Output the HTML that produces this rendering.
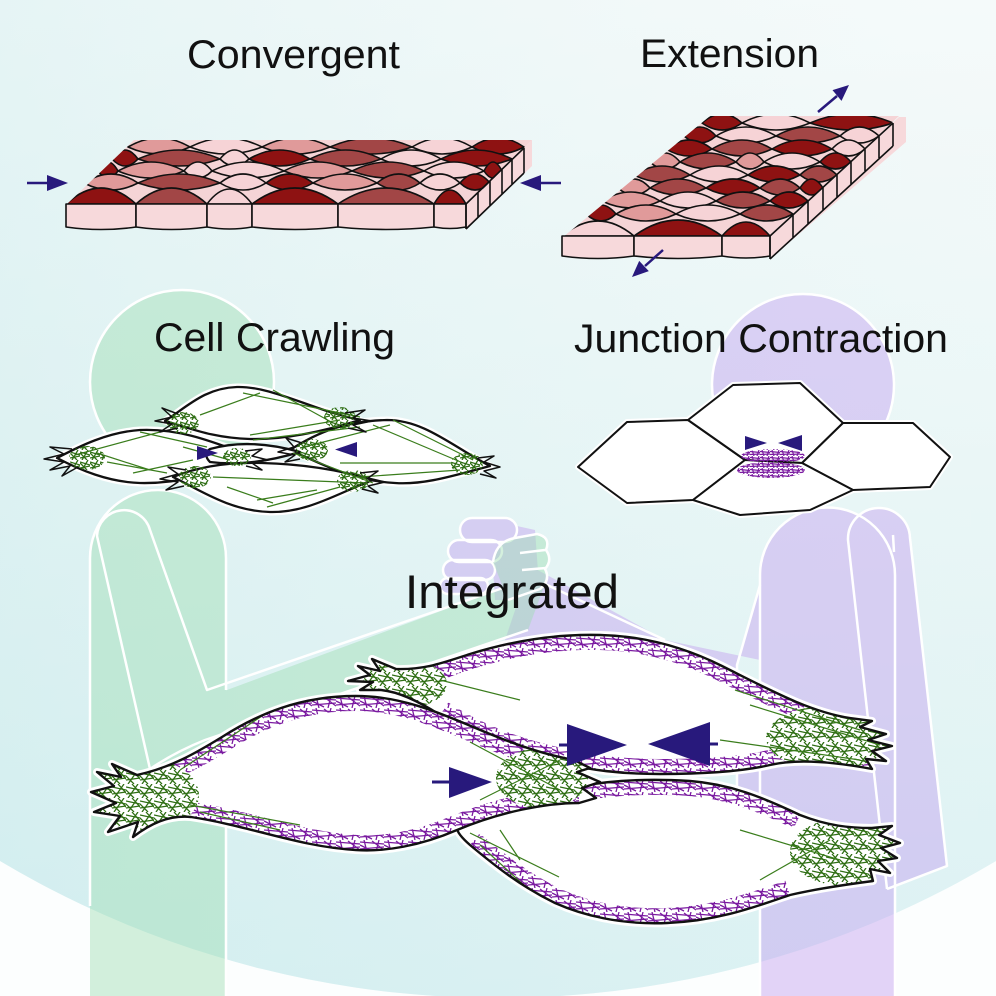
<!DOCTYPE html>
<html><head><meta charset="utf-8"><style>html,body{margin:0;padding:0;background:#fcfefe}svg{display:block}</style></head>
<body>
<svg width="996" height="996" viewBox="0 0 996 996" xmlns="http://www.w3.org/2000/svg" font-family="'Liberation Sans', Arial, sans-serif">
<defs>
<linearGradient id="bg" x1="0" y1="0" x2="0" y2="1000" gradientUnits="userSpaceOnUse">
<stop offset="0" stop-color="#f3f9f9"/><stop offset="0.5" stop-color="#e4f4f4"/><stop offset="1" stop-color="#d3eef0"/>
</linearGradient>
<linearGradient id="hz" x1="0" y1="0" x2="996" y2="0" gradientUnits="userSpaceOnUse">
<stop offset="0" stop-color="#cdeced" stop-opacity="0.35"/><stop offset="1" stop-color="#ffffff" stop-opacity="0.2"/>
</linearGradient>
<pattern id="gh" width="14" height="14" patternUnits="userSpaceOnUse">
<g stroke="#2f6e14" stroke-width="1.3">
<line x1="0" y1="3" x2="14" y2="6"/><line x1="0" y1="10" x2="14" y2="8"/><line x1="2" y1="14" x2="12" y2="0"/>
<line x1="-1" y1="5" x2="8" y2="14"/><line x1="6" y1="0" x2="15" y2="10"/>
</g></pattern>
<pattern id="gh2" width="10" height="10" patternUnits="userSpaceOnUse">
<g stroke="#2f6e14" stroke-width="1.3">
<line x1="0" y1="2" x2="10" y2="5"/><line x1="0" y1="8" x2="10" y2="6"/><line x1="2" y1="10" x2="8" y2="0"/><line x1="0" y1="3" x2="7" y2="10"/>
</g></pattern>
<pattern id="ph" width="24" height="12" patternUnits="userSpaceOnUse">
<g stroke="#7a1aa0" stroke-width="1.3">
<line x1="0" y1="2" x2="24" y2="4"/><line x1="0" y1="9" x2="24" y2="7"/><line x1="4" y1="0" x2="7" y2="12"/>
<line x1="16" y1="12" x2="19" y2="0"/><line x1="0" y1="5" x2="12" y2="11"/><line x1="12" y1="1" x2="24" y2="10"/>
</g></pattern>
<pattern id="ph2" width="10" height="6" patternUnits="userSpaceOnUse">
<g stroke="#7a1aa0" stroke-width="1.2">
<line x1="0" y1="1.5" x2="10" y2="2.5"/><line x1="0" y1="4.5" x2="10" y2="4"/><line x1="2" y1="0" x2="4" y2="6"/><line x1="7" y1="6" x2="9" y2="0"/>
</g></pattern>
<clipPath id="cTop1"><polygon points="134,140 532,140 466,206 65,206"/></clipPath>
<clipPath id="cTop2"><polygon points="710,116 899,116 770,238 562,238"/></clipPath>
<clipPath id="cBL"><path d="M137 775C170 768 196 753 222 737C258 714 300 696 356 696C412 696 458 722 500 738C528 749 552 756 574 760L590 768L577 772L600 782L582 788L596 798L579 803C545 803 500 812 457 830C420 846 384 852 356 850C300 847 250 826 191 817C168 815 150 824 133 837L138 822L108 832L120 816L94 812L116 803L91 792L114 786L97 772L121 777L112 764Z"/></clipPath>
<clipPath id="cTR"><path d="M381 690L360 690L373 682L348 681L370 675L358 666L380 671L372 659L396 669C425 670 445 662 470 654C515 640 560 634 600 635C650 636 690 650 722 666C770 690 810 712 850 718L872 721L860 727L886 734L868 740L892 746L872 751L886 761L866 759L872 769C840 763 800 758 770 765C740 772 700 774 660 774C620 774 590 770 560 763C510 752 470 735 440 715C420 702 400 692 381 690Z"/></clipPath>
<clipPath id="cBR"><path d="M560 790C600 781 640 778 690 781C730 784 762 797 800 815C828 826 850 828 872 828L892 826L879 835L900 843L881 848L897 858L878 861L890 873L870 869L873 881C850 884 820 888 790 895C760 905 720 921 667 923C620 925 582 915 555 903C520 886 494 865 470 845C462 838 457 832 457 828C482 815 520 800 560 790Z"/></clipPath>
</defs>

<rect width="996" height="996" fill="#fcfefe"/>
<circle cx="498" cy="24" r="974" fill="url(#bg)"/>
<circle cx="498" cy="24" r="974" fill="url(#hz)"/>

<!-- purple person -->
<path fill="rgba(195,160,240,0.45)" d="M760 996V575A67.5 67.5 0 0 1 895 575V996Z M760 585L737 665L737 895L760 895Z M848 540A31 31 0 0 1 910 538L947 866L887 889Z M530 566L560 582L665 640L760 660L760 770L690 740L505 640Z M490 520L535 530L540 600L495 600Z M472 518H505A12 12 0 0 1 505 542H472A12 12 0 0 1 472 518Z M459 540H491A11 11 0 0 1 491 562H459A11 11 0 0 1 459 540Z M453 560H485A10 10 0 0 1 485 580H453A10 10 0 0 1 453 560Z M448 578H480A8 8 0 0 1 480 594H448A8 8 0 0 1 448 578Z"/>
<circle cx="803" cy="385" r="91" fill="rgba(195,160,240,0.45)" stroke="#fff" stroke-width="2.5"/>
<g fill="none" stroke="#fff" stroke-width="2.5" stroke-linejoin="round">
<path d="M760 996V575A67.5 67.5 0 0 1 895 575V996"/>
<path d="M760 585L737 665L737 895"/>
<path d="M887 889L848 540A31 31 0 0 1 910 538L947 866L887 889"/>
<path d="M893 535L894 552"/>
<path d="M545 584L665 640"/>
<path d="M472 518H505A12 12 0 0 1 505 542H472A12 12 0 0 1 472 518Z"/>
<path d="M459 540H491A11 11 0 0 1 491 562H459A11 11 0 0 1 459 540Z"/>
<path d="M453 560H485A10 10 0 0 1 485 580H453A10 10 0 0 1 453 560Z"/>
<path d="M448 578H480A8 8 0 0 1 480 594H448A8 8 0 0 1 448 578Z"/>
</g>

<!-- green person -->
<path fill="rgba(160,222,180,0.45)" d="M90 996V558A68 68 0 0 1 226 558V996Z M200 700L503 588L545 584L528 630L205 742Z M493 562Q496 541 515 538L537 534Q551 537 546 550Q553 560 545 569Q551 580 540 589L508 600Z"/>
<circle cx="182" cy="382" r="92" fill="rgba(160,222,180,0.45)" stroke="#fff" stroke-width="2.5"/>
<g fill="none" stroke="#fff" stroke-width="2.5" stroke-linejoin="round">
<path d="M90 906V558A68 68 0 0 1 226 558V690"/>
<path d="M226 738V996"/>
<path d="M150 769L97 536A27 27 0 0 1 150 530L207 690L503 588"/>
<path d="M150 769Q175 752 205 740L528 630"/>
<path d="M493 562Q496 541 515 538L537 534Q551 537 546 550Q553 560 545 569Q551 580 540 589L508 600"/>
<path d="M520 553L545 550M522 570L546 568"/>
</g>

<!-- Convergent slab -->
<g stroke="#111" stroke-width="1.6" stroke-linejoin="round">
<polygon points="134,140 532,140 466,206 65,206" fill="#f5d4d6" stroke="none"/>
<polygon points="532,140 532,166 466,230 466,204" fill="#f7d9db" stroke="none"/>
<g clip-path="url(#cTop1)">
<path fill="#e09a9a" d="M128 147Q159 129 190 147Q159 161 128 147Z"/>
<path fill="#f6d3d6" d="M190 147Q226 129 262 147Q226 161 190 147Z"/>
<path fill="#e09a9a" d="M262 147Q296 129 330 147Q296 161 262 147Z"/>
<path fill="#a24646" d="M330 147Q371 129 412 147Q371 161 330 147Z"/>
<path fill="#f6d3d6" d="M412 147Q442 129 472 147Q442 161 412 147Z"/>
<path fill="#8e1212" d="M472 147Q498 129 524 147Q498 161 472 147Z"/>
<path fill="#8e1212" d="M112 159Q125 141 138 159Q125 173 112 159Z"/>
<path fill="#a24646" d="M138 159Q179 141 220 159Q179 173 138 159Z"/>
<path fill="#f6d3d6" d="M220 159Q234.5 141 249 159Q234.5 173 220 159Z"/>
<path fill="#8e1212" d="M249 159Q279.5 141 310 159Q279.5 173 249 159Z"/>
<path fill="#a24646" d="M310 159Q345.5 141 381 159Q345.5 173 310 159Z"/>
<path fill="#f6d3d6" d="M381 159Q411 141 441 159Q411 173 381 159Z"/>
<path fill="#8e1212" d="M441 159Q476.5 141 512 159Q476.5 173 441 159Z"/>
<path fill="#8e1212" d="M98 171Q108 153 118 171Q108 185 98 171Z"/>
<path fill="#e09a9a" d="M118 171Q151 153 184 171Q151 185 118 171Z"/>
<path fill="#f6d3d6" d="M184 171Q198 153 212 171Q198 185 184 171Z"/>
<path fill="#f6d3d6" d="M212 171Q248 153 284 171Q248 185 212 171Z"/>
<path fill="#e09a9a" d="M284 171Q318 153 352 171Q318 185 284 171Z"/>
<path fill="#a24646" d="M352 171Q388 153 424 171Q388 185 352 171Z"/>
<path fill="#f6d3d6" d="M424 171Q454 153 484 171Q454 185 424 171Z"/>
<path fill="#8e1212" d="M484 171Q493 153 502 171Q493 185 484 171Z"/>
<path fill="#e09a9a" d="M84 183Q111 165 138 183Q111 197 84 183Z"/>
<path fill="#a24646" d="M138 183Q179 165 220 183Q179 197 138 183Z"/>
<path fill="#f6d3d6" d="M220 183Q243 165 266 183Q243 197 220 183Z"/>
<path fill="#8e1212" d="M266 183Q289.5 165 313 183Q289.5 197 266 183Z"/>
<path fill="#e09a9a" d="M313 183Q345 165 377 183Q345 197 313 183Z"/>
<path fill="#a24646" d="M377 183Q398.5 165 420 183Q398.5 197 377 183Z"/>
<path fill="#f6d3d6" d="M420 183Q440 165 460 183Q440 197 420 183Z"/>
<path fill="#8e1212" d="M460 183Q475 165 490 183Q475 197 460 183Z"/>
<path fill="#8e1212" d="M66 204Q101 172 136 204Z"/>
<path fill="#a24646" d="M136 204Q171.5 172 207 204Z"/>
<path fill="#f6d3d6" d="M207 204Q229.5 174 252 204Z"/>
<path fill="#8e1212" d="M252 204Q295 172 338 204Z"/>
<path fill="#a24646" d="M338 204Q386 172 434 204Z"/>
<path fill="#8e1212" d="M434 204Q450 176 466 204Z"/>
</g>
<g fill="#f7d9db">
<path d="M66 204H136V227Q101 232 66 227Z"/>
<path d="M136 204H207V227Q171.5 232 136 227Z"/>
<path d="M207 204H252V227Q229.5 231 207 227Z"/>
<path d="M252 204H338V227Q295 232 252 227Z"/>
<path d="M338 204H434V227Q386 232 338 227Z"/>
<path d="M434 204H466V227Q450 230 434 227Z"/>
</g>
<path fill="none" d="M524 148V173M512 159V184M502 169V194M490 181V206M478 192V217M466 204V229M524 148L466 204M524 173L466 229"/>
</g>
<g fill="#28197c" stroke="#28197c">
<line x1="27" y1="183" x2="50" y2="183" stroke-width="2.5"/>
<polygon points="47,175 47,191 68,183" stroke="none"/>
<line x1="540" y1="183" x2="561" y2="183" stroke-width="2.5"/>
<polygon points="541,175 541,191 520,183" stroke="none"/>
</g>

<!-- Extension slab -->
<g stroke="#111" stroke-width="1.6" stroke-linejoin="round">
<polygon points="710,116 899,116 770,238 562,238" fill="#f5d4d6" stroke="none"/>
<polygon points="899,117 906,117 906,142 770,259 770,236" fill="#f7d9db" stroke="none"/>
<g clip-path="url(#cTop2)">
<path fill="#8e1212" d="M702 123Q722 105 742 123Q722 137 702 123Z"/>
<path fill="#f6d3d6" d="M742 123Q776 105 810 123Q776 137 742 123Z"/>
<path fill="#8e1212" d="M810 123Q851.5 105 893 123Q851.5 137 810 123Z"/>
<path fill="#8e1212" d="M684 136Q700 118 716 136Q700 150 684 136Z"/>
<path fill="#f6d3d6" d="M716 136Q746 118 776 136Q746 150 716 136Z"/>
<path fill="#a24646" d="M776 136Q808 118 840 136Q808 150 776 136Z"/>
<path fill="#f6d3d6" d="M840 136Q859.5 118 879 136Q859.5 150 840 136Z"/>
<path fill="#8e1212" d="M666 149Q689 131 712 149Q689 163 666 149Z"/>
<path fill="#a24646" d="M712 149Q742 131 772 149Q742 163 712 149Z"/>
<path fill="#8e1212" d="M772 149Q802 131 832 149Q802 163 772 149Z"/>
<path fill="#f6d3d6" d="M832 149Q848.5 131 865 149Q848.5 163 832 149Z"/>
<path fill="#e09a9a" d="M650 162Q665 144 680 162Q665 176 650 162Z"/>
<path fill="#a24646" d="M680 162Q708 144 736 162Q708 176 680 162Z"/>
<path fill="#e09a9a" d="M736 162Q750 144 764 162Q750 176 736 162Z"/>
<path fill="#f6d3d6" d="M764 162Q792 144 820 162Q792 176 764 162Z"/>
<path fill="#8e1212" d="M820 162Q835.5 144 851 162Q835.5 176 820 162Z"/>
<path fill="#a24646" d="M634 175Q662 157 690 175Q662 189 634 175Z"/>
<path fill="#f6d3d6" d="M690 175Q719 157 748 175Q719 189 690 175Z"/>
<path fill="#8e1212" d="M748 175Q774 157 800 175Q774 189 748 175Z"/>
<path fill="#a24646" d="M800 175Q818.5 157 837 175Q818.5 189 800 175Z"/>
<path fill="#e09a9a" d="M618 188Q634 170 650 188Q634 202 618 188Z"/>
<path fill="#a24646" d="M650 188Q678 170 706 188Q678 202 650 188Z"/>
<path fill="#8e1212" d="M706 188Q733 170 760 188Q733 202 706 188Z"/>
<path fill="#a24646" d="M760 188Q780 170 800 188Q780 202 760 188Z"/>
<path fill="#8e1212" d="M800 188Q811.5 170 823 188Q811.5 202 800 188Z"/>
<path fill="#e09a9a" d="M602 201Q631 183 660 201Q631 215 602 201Z"/>
<path fill="#f6d3d6" d="M660 201Q688 183 716 201Q688 215 660 201Z"/>
<path fill="#a24646" d="M716 201Q743 183 770 201Q743 215 716 201Z"/>
<path fill="#8e1212" d="M770 201Q789 183 808 201Q789 215 770 201Z"/>
<path fill="#8e1212" d="M586 214Q601 196 616 214Q601 228 586 214Z"/>
<path fill="#e09a9a" d="M616 214Q646 196 676 214Q646 228 616 214Z"/>
<path fill="#f6d3d6" d="M676 214Q708 196 740 214Q708 228 676 214Z"/>
<path fill="#a24646" d="M740 214Q766.5 196 793 214Q766.5 228 740 214Z"/>
<path fill="#f6d3d6" d="M562 236Q598 206 634 236Z"/>
<path fill="#8e1212" d="M634 236Q678 204 722 236Z"/>
<path fill="#8e1212" d="M722 236Q746 208 770 236Z"/>
</g>
<g fill="#f7d9db">
<path d="M562 236H634V256Q598 261 562 256Z"/>
<path d="M634 236H722V256Q678 261 634 256Z"/>
<path d="M722 236H770V256Q746 260 722 256Z"/>
</g>
<path fill="none" d="M893 123V146M879 135V158M865 148V171M851 161V184M837 174V197M823 187V210M808 201V224M793 215V238M770 236V259M893 123L770 236M893 146L770 259"/>
</g>
<g fill="#28197c" stroke="#28197c">
<line x1="818" y1="112" x2="837" y2="96" stroke-width="2.5"/>
<polygon points="849,85 841.5,100.9 832.5,90.1" stroke="none"/>
<line x1="663" y1="250" x2="645" y2="266" stroke-width="2.5"/>
<polygon points="632,277 648.8,271.1 639.2,260.9" stroke="none"/>
</g>

<!-- Cell crawling -->
<g stroke-linejoin="round">
<g fill="none" stroke="#fff" stroke-width="7">
<path d="M165 421C188 406 205 388 237 387C272 386 312 410 360 420C322 432 282 440 250 439C212 438 190 428 165 421Z"/>
<path d="M57 458C80 446 108 432 140 430C185 428 222 446 257 458C222 470 185 484 140 483C108 482 80 470 57 458Z"/>
<path d="M290 450C318 432 345 421 387 420C424 420 452 446 490 466C452 476 424 485 395 483C352 481 320 463 290 450Z"/>
<path d="M173 477C200 466 230 462 262 463C302 464 340 470 373 480C340 492 308 513 270 512C230 511 200 490 173 477Z"/>
</g>
<g fill="#fff" stroke="#111" stroke-width="2.3">
<path d="M165 421C188 406 205 388 237 387C272 386 312 410 360 420C322 432 282 440 250 439C212 438 190 428 165 421Z"/>
<path d="M57 458C80 446 108 432 140 430C185 428 222 446 257 458C222 470 185 484 140 483C108 482 80 470 57 458Z"/>
<path d="M290 450C318 432 345 421 387 420C424 420 452 446 490 466C452 476 424 485 395 483C352 481 320 463 290 450Z"/>
<path d="M173 477C200 466 230 462 262 463C302 464 340 470 373 480C340 492 308 513 270 512C230 511 200 490 173 477Z"/>
<path d="M210 449C238 441 268 443 300 452C270 461 240 466 210 462C205 457 205 452 210 449Z"/>
</g>
<g stroke="#3a7d1c" stroke-width="1.2">
<line x1="243" y1="393" x2="360" y2="417"/><line x1="273" y1="390" x2="333" y2="423"/><line x1="200" y1="415" x2="260" y2="393"/>
<line x1="140" y1="432" x2="207" y2="447"/><line x1="250" y1="435" x2="340" y2="420"/><line x1="253" y1="440" x2="360" y2="427"/>
<line x1="373" y1="425" x2="463" y2="463"/><line x1="393" y1="420" x2="473" y2="460"/><line x1="340" y1="463" x2="453" y2="463"/>
<line x1="360" y1="477" x2="460" y2="470"/><line x1="213" y1="477" x2="367" y2="483"/><line x1="227" y1="487" x2="273" y2="503"/>
<line x1="257" y1="500" x2="317" y2="490"/><line x1="267" y1="507" x2="340" y2="487"/><line x1="97" y1="453" x2="150" y2="470"/>
<line x1="107" y1="462" x2="167" y2="473"/><line x1="133" y1="473" x2="193" y2="460"/><line x1="183" y1="447" x2="230" y2="460"/>
<line x1="293" y1="453" x2="373" y2="483"/><line x1="75" y1="455" x2="160" y2="432"/><line x1="300" y1="448" x2="390" y2="425"/>
</g>
<g fill="url(#gh2)">
<ellipse cx="87" cy="458" rx="18" ry="12"/><ellipse cx="183" cy="423" rx="16" ry="11"/><ellipse cx="340" cy="418" rx="16" ry="11"/>
<ellipse cx="237" cy="457" rx="14" ry="9"/><ellipse cx="312" cy="450" rx="16" ry="11"/><ellipse cx="195" cy="477" rx="16" ry="11"/>
<ellipse cx="353" cy="481" rx="16" ry="11"/><ellipse cx="467" cy="464" rx="16" ry="11"/>
</g>
<g fill="none" stroke="#111" stroke-width="1.5">
<path d="M72 449L50 447L64 454L44 459L64 462L50 470L70 466L62 476L78 467"/>
<path d="M178 414L162 408L172 417L155 421L172 424L160 432L178 428"/>
<path d="M345 413L365 410L353 418L372 421L353 425L366 432L348 428"/>
<path d="M478 458L494 456L484 462L500 467L484 471L496 478L480 474"/>
<path d="M186 470L168 467L178 474L160 479L178 482L166 490L184 486"/>
<path d="M360 473L378 471L368 478L385 482L368 486L378 493L362 489"/>
<path d="M302 443L286 438L294 447L278 452L295 455L285 462L300 459"/>
<path d="M245 451L262 449L252 456L268 460L252 463L262 470L246 466"/>
</g>
<g fill="#28197c">
<polygon points="197,446 197,460 218,453"/>
<polygon points="357,442 357,457 335,449.5"/>
</g>
</g>

<!-- Junction contraction -->
<g stroke-linejoin="round">
<g fill="none" stroke="#fff" stroke-width="6">
<path d="M578 467L627 422L688 420L745 460L693 500L627 503Z"/>
<path d="M688 420L733 385L800 383L843 423L802 463L745 460Z"/>
<path d="M843 423L913 423L950 457L930 487L853 490L802 463Z"/>
<path d="M745 460L802 463L853 490L810 510L740 515L693 500Z"/>
</g>
<g fill="#fff" stroke="#111" stroke-width="2">
<path d="M578 467L627 422L688 420L745 460L693 500L627 503Z"/>
<path d="M688 420L733 385L800 383L843 423L802 463L745 460Z"/>
<path d="M843 423L913 423L950 457L930 487L853 490L802 463Z"/>
<path d="M745 460L802 463L853 490L810 510L740 515L693 500Z"/>
</g>
<ellipse cx="773" cy="456" rx="32" ry="7" fill="url(#ph2)"/>
<ellipse cx="771" cy="470" rx="34" ry="8" fill="url(#ph2)"/>
<g fill="#28197c">
<polygon points="745,436 745,450 767,443"/>
<polygon points="802,435 802,451 778,443"/>
</g>
</g>

<!-- Integrated cells -->
<g stroke-linejoin="round">
<g fill="none" stroke="#fff" stroke-width="8">
<path d="M381 690L360 690L373 682L348 681L370 675L358 666L380 671L372 659L396 669C425 670 445 662 470 654C515 640 560 634 600 635C650 636 690 650 722 666C770 690 810 712 850 718L872 721L860 727L886 734L868 740L892 746L872 751L886 761L866 759L872 769C840 763 800 758 770 765C740 772 700 774 660 774C620 774 590 770 560 763C510 752 470 735 440 715C420 702 400 692 381 690Z"/>
<path d="M560 790C600 781 640 778 690 781C730 784 762 797 800 815C828 826 850 828 872 828L892 826L879 835L900 843L881 848L897 858L878 861L890 873L870 869L873 881C850 884 820 888 790 895C760 905 720 921 667 923C620 925 582 915 555 903C520 886 494 865 470 845C462 838 457 832 457 828C482 815 520 800 560 790Z"/>
<path d="M137 775C170 768 196 753 222 737C258 714 300 696 356 696C412 696 458 722 500 738C528 749 552 756 574 760L590 768L577 772L600 782L582 788L596 798L579 803C545 803 500 812 457 830C420 846 384 852 356 850C300 847 250 826 191 817C168 815 150 824 133 837L138 822L108 832L120 816L94 812L116 803L91 792L114 786L97 772L121 777L112 764Z"/>
</g>
<g>
<path fill="#fff" d="M381 690L360 690L373 682L348 681L370 675L358 666L380 671L372 659L396 669C425 670 445 662 470 654C515 640 560 634 600 635C650 636 690 650 722 666C770 690 810 712 850 718L872 721L860 727L886 734L868 740L892 746L872 751L886 761L866 759L872 769C840 763 800 758 770 765C740 772 700 774 660 774C620 774 590 770 560 763C510 752 470 735 440 715C420 702 400 692 381 690Z"/>
<g clip-path="url(#cTR)">
<path fill="none" stroke="url(#ph)" stroke-width="30" d="M381 690C425 670 445 662 470 654C515 640 560 634 600 635C650 636 690 650 722 666C770 690 810 712 850 718M872 769C840 763 800 758 770 765C740 772 700 774 660 774C620 774 590 770 560 763C510 752 470 735 440 715"/>
<ellipse cx="405" cy="684" rx="42" ry="24" fill="#fff"/><ellipse cx="405" cy="684" rx="42" ry="24" fill="url(#gh)"/>
<ellipse cx="828" cy="738" rx="62" ry="32" fill="#fff"/><ellipse cx="828" cy="738" rx="62" ry="32" fill="url(#gh)"/>
<g stroke="#3a7d1c" stroke-width="1.2"><line x1="735" y1="690" x2="860" y2="730"/><line x1="750" y1="705" x2="880" y2="745"/><line x1="440" y1="680" x2="520" y2="700"/><line x1="720" y1="740" x2="860" y2="760"/></g>
</g>
<path fill="none" stroke="#111" stroke-width="2.4" d="M381 690L360 690L373 682L348 681L370 675L358 666L380 671L372 659L396 669C425 670 445 662 470 654C515 640 560 634 600 635C650 636 690 650 722 666C770 690 810 712 850 718L872 721L860 727L886 734L868 740L892 746L872 751L886 761L866 759L872 769C840 763 800 758 770 765C740 772 700 774 660 774C620 774 590 770 560 763C510 752 470 735 440 715C420 702 400 692 381 690Z"/>
</g>
<g>
<path fill="#fff" d="M560 790C600 781 640 778 690 781C730 784 762 797 800 815C828 826 850 828 872 828L892 826L879 835L900 843L881 848L897 858L878 861L890 873L870 869L873 881C850 884 820 888 790 895C760 905 720 921 667 923C620 925 582 915 555 903C520 886 494 865 470 845C462 838 457 832 457 828C482 815 520 800 560 790Z"/>
<g clip-path="url(#cBR)">
<path fill="none" stroke="url(#ph)" stroke-width="30" d="M560 790C600 781 640 778 690 781C730 784 762 797 800 815M790 895C760 905 720 921 667 923C620 925 582 915 555 903C520 886 494 865 470 845"/>
<ellipse cx="845" cy="852" rx="55" ry="34" fill="#fff"/><ellipse cx="845" cy="852" rx="55" ry="34" fill="url(#gh)"/>
<g stroke="#3a7d1c" stroke-width="1.2"><line x1="470" y1="833" x2="559" y2="877"/><line x1="480" y1="845" x2="540" y2="900"/><line x1="500" y1="830" x2="520" y2="860"/><line x1="760" y1="880" x2="830" y2="840"/><line x1="740" y1="830" x2="840" y2="860"/></g>
</g>
<path fill="none" stroke="#111" stroke-width="2.4" d="M560 790C600 781 640 778 690 781C730 784 762 797 800 815C828 826 850 828 872 828L892 826L879 835L900 843L881 848L897 858L878 861L890 873L870 869L873 881C850 884 820 888 790 895C760 905 720 921 667 923C620 925 582 915 555 903C520 886 494 865 470 845C462 838 457 832 457 828C482 815 520 800 560 790Z"/>
</g>
<g>
<path fill="#fff" d="M137 775C170 768 196 753 222 737C258 714 300 696 356 696C412 696 458 722 500 738C528 749 552 756 574 760L590 768L577 772L600 782L582 788L596 798L579 803C545 803 500 812 457 830C420 846 384 852 356 850C300 847 250 826 191 817C168 815 150 824 133 837L138 822L108 832L120 816L94 812L116 803L91 792L114 786L97 772L121 777L112 764Z"/>
<g clip-path="url(#cBL)">
<path fill="none" stroke="url(#ph)" stroke-width="30" d="M137 775C170 768 196 753 222 737C258 714 300 696 356 696C412 696 458 722 500 738C528 749 552 756 574 760M579 803C545 803 500 812 457 830C420 846 384 852 356 850C300 847 250 826 191 817"/>
<ellipse cx="145" cy="795" rx="54" ry="36" fill="#fff"/><ellipse cx="145" cy="795" rx="54" ry="36" fill="url(#gh)"/>
<ellipse cx="542" cy="778" rx="46" ry="30" fill="#fff"/><ellipse cx="542" cy="778" rx="46" ry="30" fill="url(#gh)"/>
<g stroke="#3a7d1c" stroke-width="1.2"><line x1="180" y1="770" x2="262" y2="716"/><line x1="190" y1="805" x2="300" y2="825"/><line x1="200" y1="812" x2="280" y2="830"/><line x1="470" y1="742" x2="560" y2="790"/><line x1="480" y1="800" x2="560" y2="760"/></g>
</g>
<path fill="none" stroke="#111" stroke-width="2.4" d="M137 775C170 768 196 753 222 737C258 714 300 696 356 696C412 696 458 722 500 738C528 749 552 756 574 760L590 768L577 772L600 782L582 788L596 798L579 803C545 803 500 812 457 830C420 846 384 852 356 850C300 847 250 826 191 817C168 815 150 824 133 837L138 822L108 832L120 816L94 812L116 803L91 792L114 786L97 772L121 777L112 764Z"/>
</g>
<g fill="#28197c" stroke="#28197c">
<polygon points="567,724 567,766 627,745" stroke="none"/>
<line x1="559" y1="745" x2="568" y2="745" stroke-width="3"/>
<polygon points="710,722 710,766 648,744" stroke="none"/>
<line x1="709" y1="744" x2="718" y2="744" stroke-width="3"/>
<polygon points="449,767 449,798 492,782" stroke="none"/>
<line x1="432" y1="782" x2="450" y2="782" stroke-width="3"/>
</g>
</g>

<g fill="#111">
<text x="187" y="68" font-size="40" textLength="213" lengthAdjust="spacingAndGlyphs">Convergent</text>
<text x="640" y="67" font-size="40" textLength="179" lengthAdjust="spacingAndGlyphs">Extension</text>
<text x="154" y="351" font-size="40" textLength="241" lengthAdjust="spacingAndGlyphs">Cell Crawling</text>
<text x="574" y="352" font-size="40" textLength="374" lengthAdjust="spacingAndGlyphs">Junction Contraction</text>
<text x="405" y="608" font-size="47" textLength="214" lengthAdjust="spacingAndGlyphs">Integrated</text>
</g>
</svg>
</body></html>
